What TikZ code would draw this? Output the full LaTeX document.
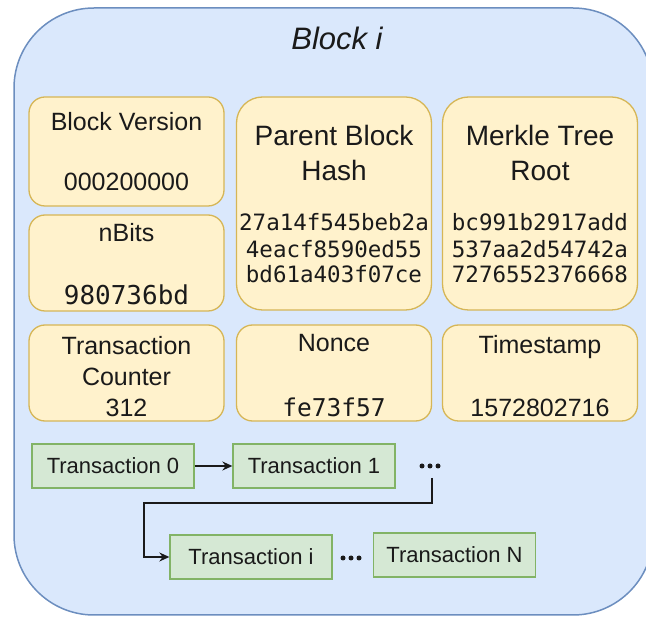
\documentclass[tikz,border=0pt]{standalone}
\usepackage{fontspec}
\setmainfont{Liberation Sans}
\newfontfamily\monof{DejaVu Sans Mono}
\usetikzlibrary{arrows.meta}
\definecolor{outerfill}{HTML}{DAE8FC}
\definecolor{outerdraw}{HTML}{6C8EBF}
\definecolor{yfill}{HTML}{FFF2CC}
\definecolor{ydraw}{HTML}{D6B656}
\definecolor{gfill}{HTML}{D5E8D4}
\definecolor{gdraw}{HTML}{82B366}
\definecolor{ink}{HTML}{1A1A1A}
\begin{document}
\begin{tikzpicture}[x=1pt,y=-1pt,
  ybox/.style={draw=ydraw, fill=yfill, line width=1.3pt, inner sep=0pt, minimum width=195pt},
  gbox/.style={draw=gdraw, fill=gfill, line width=1.3pt, inner sep=0pt, minimum width=162pt, minimum height=44pt},
  lab/.style={anchor=base, inner sep=0pt, text=ink, font=\fontsize{25}{30}\selectfont},
  biglab/.style={anchor=base, inner sep=0pt, text=ink, font=\fontsize{28}{33}\selectfont},
  hashlab/.style={anchor=base, inner sep=0pt, text=ink, font=\monof\fontsize{22.5}{26}\selectfont},
  glab/.style={anchor=base, inner sep=0pt, text=ink, font=\fontsize{22}{26}\selectfont},
  conn/.style={draw=ink, line width=1.3pt, -{Stealth[length=10pt,width=9pt]}},
  dotsbox/.style={inner sep=0pt, minimum width=24pt, minimum height=6pt}
]
\clip (0,0) rectangle (646,617);
% outer block
\node[draw=outerdraw, fill=outerfill, line width=1.5pt, rounded corners=80pt,
      minimum width=639pt, minimum height=607pt, inner sep=0pt] (outer) at (333.5,311.5) {};
\node[anchor=base, inner sep=0pt, text=ink, font=\itshape\fontsize{31}{36}\selectfont] (title) at (337,50) {Block i};

% yellow boxes
\node[ybox, minimum height=109pt, rounded corners=16pt] (bv) at (126.5,151.5) {};
\node[ybox, minimum height=96pt, rounded corners=16pt] (nb) at (126.5,263) {};
\node[ybox, minimum height=213pt, rounded corners=26pt] (pb) at (334,203.5) {};
\node[ybox, minimum height=213pt, rounded corners=26pt] (mk) at (540,203.5) {};
\node[ybox, minimum height=96pt, rounded corners=16pt] (tc) at (126.5,373) {};
\node[ybox, minimum height=96pt, rounded corners=16pt] (nc) at (334,373) {};
\node[ybox, minimum height=96pt, rounded corners=16pt] (ts) at (540,373) {};

% yellow texts
\node[lab] (bvA) at (126.5,131) {Block Version};
\node[lab] (bvB) at (126.5,191) {000200000};
\node[lab] (nbA) at (126.5,242) {nBits};
\node[anchor=base, inner sep=0pt, text=ink, font=\monof\fontsize{26}{30}\selectfont] (nbB) at (126.5,304.5) {980736bd};

\node[biglab] (pbA) at (334,146) {Parent Block};
\node[biglab] (pbB) at (334,181) {Hash};
\node[hashlab] (pbC) at (334,231) {27a14f545beb2a};
\node[hashlab] (pbD) at (334,258) {4eacf8590ed55};
\node[hashlab] (pbE) at (334,283) {bd61a403f07ce};

\node[biglab] (mkA) at (540,146) {Merkle Tree};
\node[biglab] (mkB) at (540,181) {Root};
\node[hashlab] (mkC) at (540,231) {bc991b2917add};
\node[hashlab] (mkD) at (540,258) {537aa2d54742a};
\node[hashlab] (mkE) at (540,283) {7276552376668};

\node[lab] (tcA) at (126.5,355) {Transaction};
\node[lab] (tcB) at (126.5,386) {Counter};
\node[lab] (tcC) at (126.5,416.5) {312};
\node[lab] (ncA) at (334,352) {Nonce};
\node[anchor=base, inner sep=0pt, text=ink, font=\monof\fontsize{24.5}{30}\selectfont] (ncB) at (334,416.5) {fe73f57};
\node[lab] (tsA) at (540,354) {Timestamp};
\node[lab] (tsB) at (540,416.5) {1572802716};

% green transaction boxes
\node[gbox] (g0) at (113,466) {};
\node[gbox] (g1) at (314,466) {};
\node[gbox] (gi) at (251,557) {};
\node[gbox] (gn) at (454.5,555) {};
\node[glab] (g0t) at (113,474) {Transaction 0};
\node[glab] (g1t) at (314,474) {Transaction 1};
\node[glab] (git) at (251,565) {Transaction i};
\node[glab] (gnt) at (454.5,563) {Transaction N};

% ellipsis dots
\node[dotsbox] (d1) at (430,466) {};
\node[dotsbox] (d2) at (351,558) {};
\foreach \n in {d1,d2}{
  \foreach \dx in {-8,0,8}{
    \fill[ink] (\n.center) ++(\dx,0) circle (2.5pt);
  }
}

% connectors
\coordinate (c0) at (432,478);
\coordinate (c1) at (144,503);
\draw[conn] (g0.east) -- (g1.west);
\draw[conn] (c0) |- (c1) |- (gi.west);
\end{tikzpicture}
\end{document}
